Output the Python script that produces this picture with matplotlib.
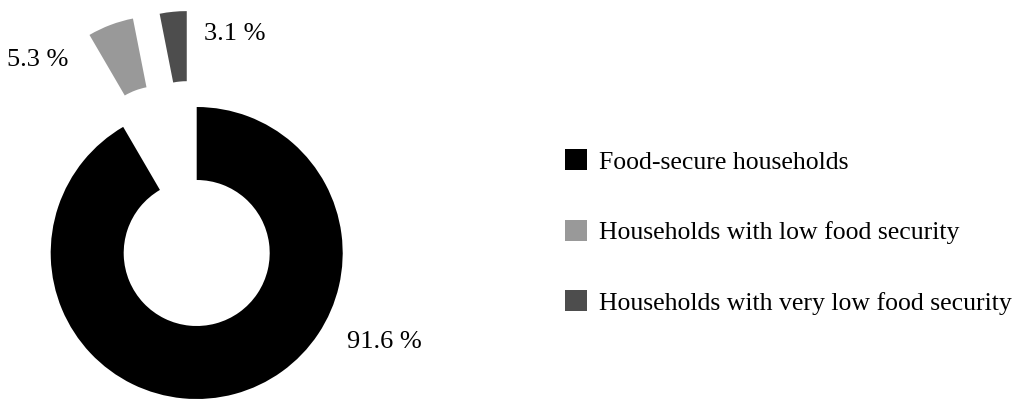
import matplotlib
matplotlib.use('Agg')
import matplotlib.pyplot as plt

# food security shares
labels = ['Food-secure households',
          'Households with low food security',
          'Households with very low food security']
shares = [91.6, 5.3, 3.1]
pct_labels = ['91.6 %', '5.3 %', '3.1 %']
colors = ['#000000', '#999999', '#4d4d4d']
explode = [0, 0.71, 0.70]

plt.rcParams['font.family'] = ['Liberation Serif', 'DejaVu Serif']

W, H = 1030, 401
fig = plt.figure(figsize=(W / 100, H / 100), dpi=100)
ax = fig.add_axes([0, 0, 520 / W, 1])

wedges, _ = ax.pie(shares, colors=colors, startangle=90, counterclock=False,
                   explode=explode, radius=1,
                   wedgeprops=dict(width=0.5, linewidth=0))
# the pulled-out slices are drawn a bit smaller than the ring
for w in wedges[1:]:
    w.set_radius(0.96)
    w.set_width(0.48)

# pixel scale: ring radius ~146 px, centre at (197, 148) from bottom-left
R, cx, cy = 146, 196.7, 148
ax.set_xlim(-cx / R, (520 - cx) / R)
ax.set_ylim(-cy / R, (H - cy) / R)
ax.set_aspect('auto')

label_pos = [(1.283, -0.61), (-1.087, 1.32), (0.262, 1.50)]
for txt, (x, y) in zip(pct_labels, label_pos):
    ax.text(x, y, txt, fontsize=19, ha='center', va='center')

fig.legend(wedges, labels, loc='center left',
           bbox_to_anchor=(565 / W, (H - 232) / H),
           frameon=False, fontsize=18.5, handlelength=0.86, handleheight=0.86,
           handletextpad=0.47, labelspacing=1.8, borderpad=0, borderaxespad=0)

fig.savefig('out.png', dpi=100)
